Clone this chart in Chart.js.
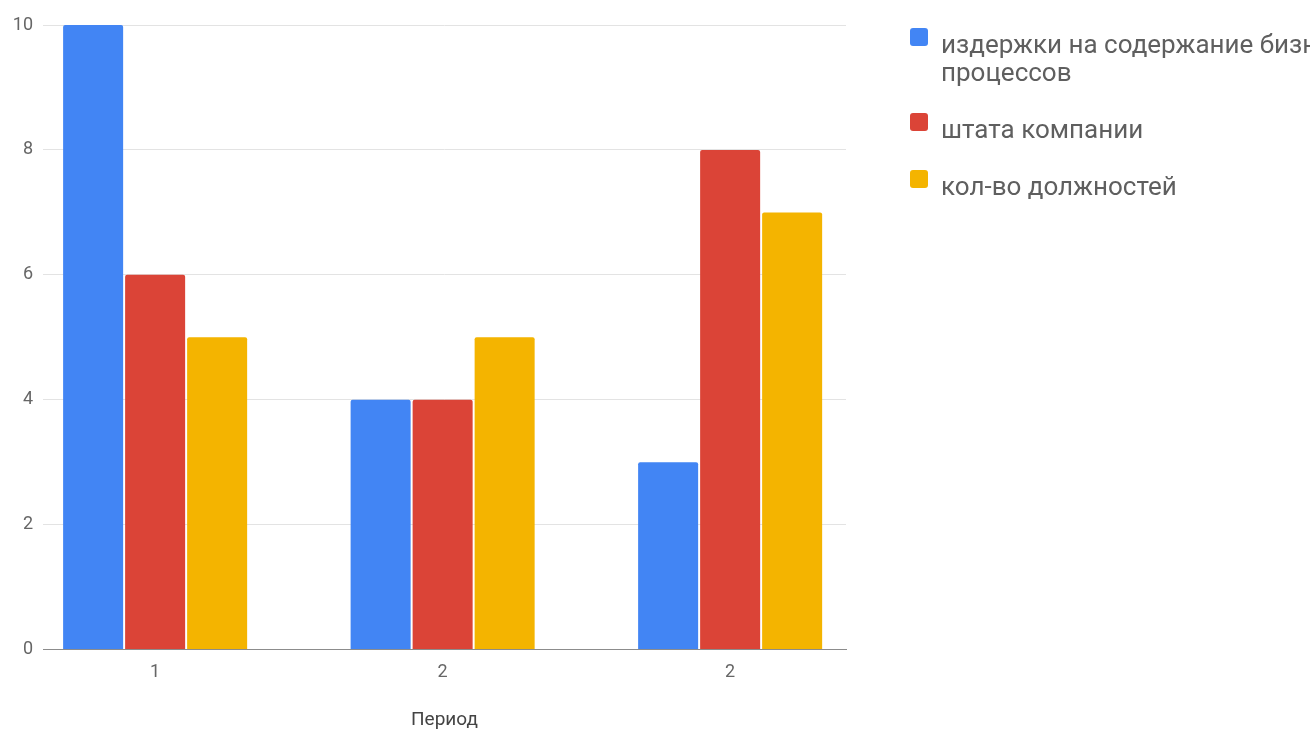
<!DOCTYPE html>
<html lang="ru">
<head>
<meta charset="utf-8">
<title>Период</title>
<script src="https://cdn.jsdelivr.net/npm/chart.js@4/dist/chart.umd.min.js"></script>
<style>
  html, body { margin: 0; padding: 0; background: #fff; overflow: hidden; }
  #wrap { width: 1310px; height: 736px; }
</style>
</head>
<body>
<div id="wrap"><canvas id="graphicPeriods"></canvas></div>
<script>
// данные графика
const periods = ["1", "2", "2"];
const costs = [10, 4, 3];
const staff = [6, 4, 8];
const positions = [5, 5, 7];
const seriesNames = [
  ["издержки на содержание бизнес-", "процессов"],
  ["штата компании"],
  ["кол-во должностей"]
];
const seriesColors = ["#4285f4", "#db4437", "#f4b400"];
const yTicks = [0, 2, 4, 6, 8, 10];

// точки по номеру периода (1, 2, 3) на линейной оси
function toPoints(values) {
  return values.map((v, i) => ({ x: i + 1, y: v }));
}

// квадратик легенды чуть выше середины строки, как в исходнике
function legendMark(color) {
  const c = document.createElement("canvas");
  c.width = 18;
  c.height = 36;
  const g = c.getContext("2d");
  g.fillStyle = color;
  g.beginPath();
  g.roundRect(0, 0, 18, 18, 3);
  g.fill();
  return c;
}

function createGraphic() {
  const ctx = document.getElementById("graphicPeriods").getContext("2d");
  const tickFont = { family: "Roboto", size: 18 };
  const marks = seriesColors.map(legendMark);

  new Chart(ctx, {
    type: "bar",
    data: {
      datasets: [costs, staff, positions].map((vals, i) => ({
        label: seriesNames[i],
        data: toPoints(vals),
        backgroundColor: seriesColors[i],
        borderRadius: 2,
        categoryPercentage: 0.647,
        barPercentage: 0.968,
      })),
    },
    options: {
      responsive: true,
      maintainAspectRatio: false,
      animation: false,
      layout: { padding: { top: 4 } },
      scales: {
        x: {
          type: "linear",
          offset: false,
          min: 0.61,
          max: 3.403,
          grid: { display: false, drawTicks: false },
          border: { color: "#8c8c8c" },
          afterBuildTicks: s => {
            s.ticks = periods.map((p, i) => ({ value: i + 1 }));
          },
          ticks: {
            callback: (v, i) => periods[i],
            font: tickFont,
            color: "#666",
            padding: 12,
          },
          title: {
            display: true,
            text: "Период",
            font: { family: "Roboto", size: 19 },
            color: "#444",
            padding: { top: 14, bottom: 4 },
          },
        },
        y: {
          min: yTicks[0],
          max: yTicks[yTicks.length - 1],
          ticks: { stepSize: yTicks[1] - yTicks[0], font: tickFont, color: "#666", padding: 10 },
          grid: { color: "#e3e3e3", drawTicks: false },
          border: { display: false },
          afterFit: s => { s.width = 43; },
        },
        // пустое место между областью графика и легендой
        gap: {
          type: "linear",
          position: "right",
          grid: { display: false },
          border: { display: false },
          ticks: { display: false },
          afterFit: s => { s.width = 35; },
        },
      },
      plugins: {
        title: { display: true, text: "", padding: { top: 11, bottom: 0 }, font: { size: 10, lineHeight: 1 } },
        legend: {
          position: "right",
          align: "start",
          maxWidth: 429,
          labels: {
            font: { family: "Roboto", size: 26, lineHeight: 28 / 26 },
            color: "#5f5f5f",
            boxWidth: 18,
            boxHeight: 18,
            padding: 29,
            usePointStyle: true,
            generateLabels: chart =>
              Chart.defaults.plugins.legend.labels.generateLabels(chart).map((item, i) => ({
                ...item,
                pointStyle: marks[i],
              })),
          },
        },
        tooltip: { enabled: false },
      },
    },
  });
}

window.onload = createGraphic;
</script>
</body>
</html>
